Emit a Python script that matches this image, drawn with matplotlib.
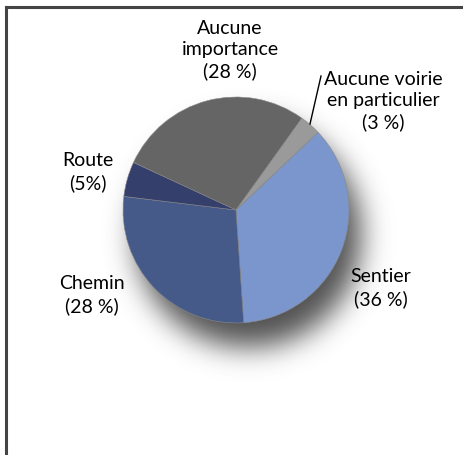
import numpy as np
import matplotlib.pyplot as plt
from matplotlib.lines import Line2D

plt.rcParams['font.family'] = ['Lato', 'DejaVu Sans']

# Data, clockwise from the upper right
labels = ['Sentier\n(36 %)', 'Chemin\n(28 %)', 'Route\n(5%)',
          'Aucune\nimportance\n(28 %)', 'Aucune voirie\nen particulier\n(3 %)']
shares = [36, 28, 5, 28, 3]
colors = ['#7b96cc', '#465a8a', '#343f6c', '#656565', '#9a9a9a']

W, H = 464, 455
cx, cy, r = 236, H - 210, 113

fig = plt.figure(figsize=(W / 100, H / 100), dpi=100)
ax = fig.add_axes([0, 0, 1, 1])

# blurred drop shadow below the pie
yy, xx = np.mgrid[0:H, 0:W]
mask = (((xx - (cx + 12)) ** 2 + ((H - yy) - (cy - 24)) ** 2) <= r ** 2).astype(float)
sigma = 14
k = np.arange(-45, 46)
g = np.exp(-k ** 2 / (2 * sigma ** 2))
g /= g.sum()
blur = np.apply_along_axis(lambda m: np.convolve(m, g, mode='same'), 0, mask)
blur = np.apply_along_axis(lambda m: np.convolve(m, g, mode='same'), 1, blur)
shadow = np.zeros((H, W, 4))
shadow[..., :3] = 0.2
shadow[..., 3] = blur * 0.85
ax.imshow(shadow, extent=[0, W, 0, H], origin='upper', zorder=1)

ax.pie(shares, colors=colors, startangle=43.5, counterclock=False,
       center=(cx, cy), radius=r, frame=True,
       wedgeprops=dict(linewidth=0.4, edgecolor='#8a8a8a'))
for p in ax.patches:
    p.set_zorder(2)
ax.set_xlim(0, W)
ax.set_ylim(0, H)
ax.set_aspect('equal')
ax.axis('off')

txt = dict(fontsize=14, ha='center', va='center', color='black', linespacing=1.3, zorder=3)
ax.text(381, H - 288, labels[0], **txt)
ax.text(92, H - 295, labels[1], **txt)
ax.text(88, H - 172, labels[2], **txt)
ax.text(230, H - 50, labels[3], **txt)
ax.text(383, H - 101, labels[4], **txt)

# leader line for the small slice
ax.add_line(Line2D([310, 321], [H - 124, H - 76], color='black', lw=1, zorder=3))

# frame: top and left edges only
ax.add_line(Line2D([6, W], [H - 7, H - 7], color='#444444', lw=2.2, zorder=4))
ax.add_line(Line2D([6, 6], [0, H - 7], color='#444444', lw=2.2, zorder=4))

fig.savefig('out.png', dpi=100)
